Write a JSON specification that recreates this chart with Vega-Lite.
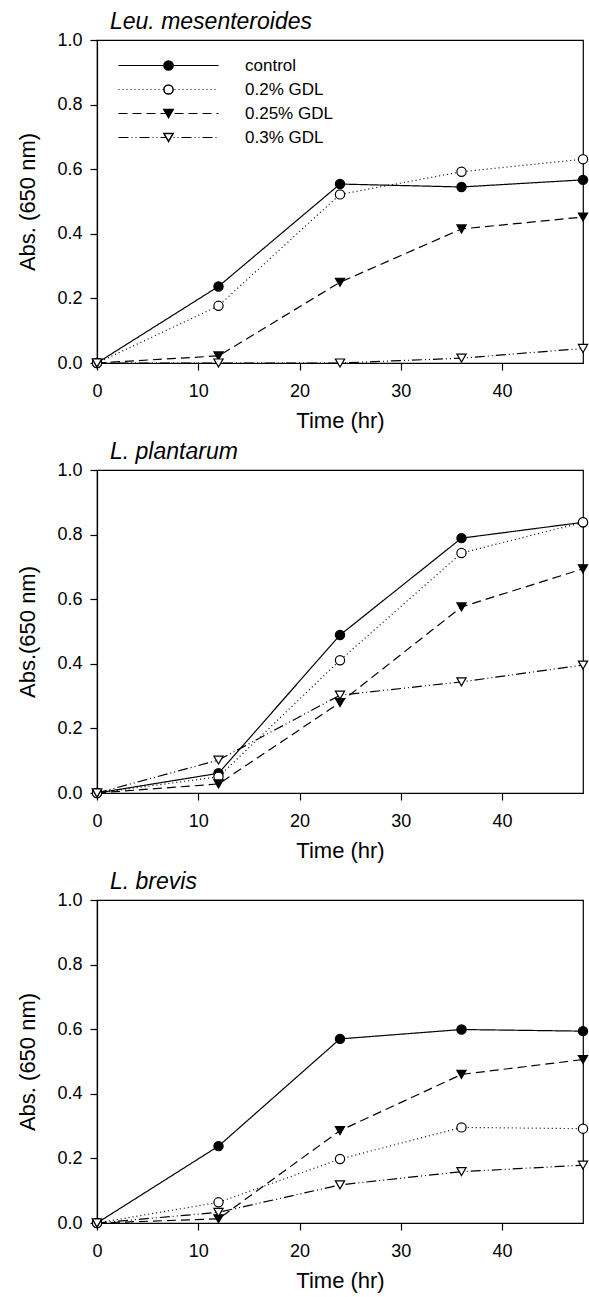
{
  "$schema": "https://vega.github.io/schema/vega-lite/v6.json",
  "background": "white",
  "padding": {"left": 16, "top": 10, "right": 0, "bottom": 5},
  "spacing": 8,
  "config": {
    "font": "Liberation Sans",
    "view": {"stroke": "black", "strokeWidth": 1.2},
    "axis": {
      "domainColor": "black", "domainWidth": 1.2,
      "tickColor": "black", "tickWidth": 1.2, "tickSize": 7,
      "labelColor": "black", "titleColor": "black",
      "labelFont": "Liberation Sans", "titleFont": "Liberation Sans",
      "labelFontSize": 18, "titleFontSize": 22, "titleFontWeight": "normal",
      "grid": false, "labelFlush": false
    },
    "title": {"font": "Liberation Sans", "fontSize": 23, "fontStyle": "italic", "fontWeight": "normal", "color": "black", "anchor": "start", "frame": "group", "dx": 13, "offset": -3}
  },
  "data": {"values": [
    {"panel": "Leu", "treatment": "control", "time": 0, "abs": 0},
    {"panel": "Leu", "treatment": "control", "time": 12, "abs": 0.237},
    {"panel": "Leu", "treatment": "control", "time": 24, "abs": 0.554},
    {"panel": "Leu", "treatment": "control", "time": 36, "abs": 0.545},
    {"panel": "Leu", "treatment": "control", "time": 48, "abs": 0.567},
    {"panel": "Leu", "treatment": "0.2% GDL", "time": 0, "abs": 0},
    {"panel": "Leu", "treatment": "0.2% GDL", "time": 12, "abs": 0.177},
    {"panel": "Leu", "treatment": "0.2% GDL", "time": 24, "abs": 0.522},
    {"panel": "Leu", "treatment": "0.2% GDL", "time": 36, "abs": 0.592},
    {"panel": "Leu", "treatment": "0.2% GDL", "time": 48, "abs": 0.631},
    {"panel": "Leu", "treatment": "0.25% GDL", "time": 0, "abs": 0},
    {"panel": "Leu", "treatment": "0.25% GDL", "time": 12, "abs": 0.022},
    {"panel": "Leu", "treatment": "0.25% GDL", "time": 24, "abs": 0.25},
    {"panel": "Leu", "treatment": "0.25% GDL", "time": 36, "abs": 0.415},
    {"panel": "Leu", "treatment": "0.25% GDL", "time": 48, "abs": 0.452},
    {"panel": "Leu", "treatment": "0.3% GDL", "time": 0, "abs": 0},
    {"panel": "Leu", "treatment": "0.3% GDL", "time": 12, "abs": 0.0},
    {"panel": "Leu", "treatment": "0.3% GDL", "time": 24, "abs": 0.0},
    {"panel": "Leu", "treatment": "0.3% GDL", "time": 36, "abs": 0.015},
    {"panel": "Leu", "treatment": "0.3% GDL", "time": 48, "abs": 0.045},
    {"panel": "Plant", "treatment": "control", "time": 0, "abs": 0},
    {"panel": "Plant", "treatment": "control", "time": 12, "abs": 0.061},
    {"panel": "Plant", "treatment": "control", "time": 24, "abs": 0.489},
    {"panel": "Plant", "treatment": "control", "time": 36, "abs": 0.789},
    {"panel": "Plant", "treatment": "control", "time": 48, "abs": 0.838},
    {"panel": "Plant", "treatment": "0.2% GDL", "time": 0, "abs": 0},
    {"panel": "Plant", "treatment": "0.2% GDL", "time": 12, "abs": 0.05},
    {"panel": "Plant", "treatment": "0.2% GDL", "time": 24, "abs": 0.411},
    {"panel": "Plant", "treatment": "0.2% GDL", "time": 36, "abs": 0.743},
    {"panel": "Plant", "treatment": "0.2% GDL", "time": 48, "abs": 0.838},
    {"panel": "Plant", "treatment": "0.25% GDL", "time": 0, "abs": 0},
    {"panel": "Plant", "treatment": "0.25% GDL", "time": 12, "abs": 0.028},
    {"panel": "Plant", "treatment": "0.25% GDL", "time": 24, "abs": 0.28},
    {"panel": "Plant", "treatment": "0.25% GDL", "time": 36, "abs": 0.576},
    {"panel": "Plant", "treatment": "0.25% GDL", "time": 48, "abs": 0.694},
    {"panel": "Plant", "treatment": "0.3% GDL", "time": 0, "abs": 0},
    {"panel": "Plant", "treatment": "0.3% GDL", "time": 12, "abs": 0.102},
    {"panel": "Plant", "treatment": "0.3% GDL", "time": 24, "abs": 0.303},
    {"panel": "Plant", "treatment": "0.3% GDL", "time": 36, "abs": 0.344},
    {"panel": "Plant", "treatment": "0.3% GDL", "time": 48, "abs": 0.396},
    {"panel": "Brev", "treatment": "control", "time": 0, "abs": 0},
    {"panel": "Brev", "treatment": "control", "time": 12, "abs": 0.238},
    {"panel": "Brev", "treatment": "control", "time": 24, "abs": 0.57},
    {"panel": "Brev", "treatment": "control", "time": 36, "abs": 0.599},
    {"panel": "Brev", "treatment": "control", "time": 48, "abs": 0.594},
    {"panel": "Brev", "treatment": "0.2% GDL", "time": 0, "abs": 0},
    {"panel": "Brev", "treatment": "0.2% GDL", "time": 12, "abs": 0.064},
    {"panel": "Brev", "treatment": "0.2% GDL", "time": 24, "abs": 0.198},
    {"panel": "Brev", "treatment": "0.2% GDL", "time": 36, "abs": 0.296},
    {"panel": "Brev", "treatment": "0.2% GDL", "time": 48, "abs": 0.292},
    {"panel": "Brev", "treatment": "0.25% GDL", "time": 0, "abs": 0},
    {"panel": "Brev", "treatment": "0.25% GDL", "time": 12, "abs": 0.013},
    {"panel": "Brev", "treatment": "0.25% GDL", "time": 24, "abs": 0.286},
    {"panel": "Brev", "treatment": "0.25% GDL", "time": 36, "abs": 0.46},
    {"panel": "Brev", "treatment": "0.25% GDL", "time": 48, "abs": 0.506},
    {"panel": "Brev", "treatment": "0.3% GDL", "time": 0, "abs": 0},
    {"panel": "Brev", "treatment": "0.3% GDL", "time": 12, "abs": 0.033},
    {"panel": "Brev", "treatment": "0.3% GDL", "time": 24, "abs": 0.118},
    {"panel": "Brev", "treatment": "0.3% GDL", "time": 36, "abs": 0.159},
    {"panel": "Brev", "treatment": "0.3% GDL", "time": 48, "abs": 0.179}
  ]},
  "resolve": {
    "scale": {"shape": "independent", "fill": "independent", "strokeDash": "independent"},
    "legend": {"shape": "independent", "fill": "independent", "strokeDash": "independent"}
  },
  "vconcat": [
    {
      "width": 486, "height": 323,
      "title": {"text": "Leu. mesenteroides"},
      "transform": [{"filter": "datum.panel === 'Leu'"}],
      "encoding": {
        "x": {"field": "time", "type": "quantitative", "scale": {"domain": [0, 48], "nice": false}, "axis": {"values": [0, 10, 20, 30, 40], "title": "Time (hr)", "labelPadding": 12, "titlePadding": 10}},
        "y": {"field": "abs", "type": "quantitative", "scale": {"domain": [0, 1], "nice": false}, "axis": {"values": [0, 0.2, 0.4, 0.6, 0.8, 1.0], "format": ".1f", "title": "Abs. (650 nm)", "labelPadding": 8, "titlePadding": 17}}
      },
      "layer": [
        {
          "mark": {"type": "line", "stroke": "black", "strokeWidth": 1.2},
          "encoding": {
            "strokeDash": {"field": "treatment", "type": "nominal",
              "sort": ["control", "0.2% GDL", "0.25% GDL", "0.3% GDL"],
              "scale": {"range": [[1, 0], [1, 3], [9, 5], [10, 3, 1, 3, 1, 3]]},
              "legend": {"orient": "none", "legendX": 63, "legendY": 17, "title": null, "symbolType": "M-10,0H10", "symbolSize": 100, "symbolStrokeColor": "black", "symbolStrokeWidth": 1.2, "labelFont": "Liberation Sans", "labelFontSize": 17, "labelColor": "black", "labelOffset": 68, "rowPadding": 6, "padding": 0}}
          }
        },
        {
          "mark": {"type": "point", "filled": true, "stroke": "black", "strokeWidth": 1.2, "size": 85, "opacity": 1},
          "encoding": {
            "shape": {"field": "treatment", "type": "nominal",
              "scale": {"domain": ["control", "0.2% GDL", "0.25% GDL", "0.3% GDL"], "range": ["circle", "circle", "triangle-down", "triangle-down"]},
              "legend": {"orient": "none", "legendX": 63, "legendY": 17, "title": null, "padding": 0, "symbolSize": 85, "labelFontSize": 17, "labelExpr": "''", "rowPadding": 6,
                "encode": {"symbols": {"update": {"stroke": {"value": "black"}, "strokeWidth": {"value": 1.2}}}}}},
            "fill": {"field": "treatment", "type": "nominal",
              "scale": {"domain": ["control", "0.2% GDL", "0.25% GDL", "0.3% GDL"], "range": ["black", "white", "black", "white"]},
              "legend": {"orient": "none", "legendX": 63, "legendY": 17, "title": null, "padding": 0, "symbolSize": 85, "labelFontSize": 17, "labelExpr": "''", "rowPadding": 6,
                "encode": {"symbols": {"update": {"stroke": {"value": "black"}, "strokeWidth": {"value": 1.2}}}}}}
          }
        }
      ]
    },
    {
      "width": 486, "height": 323,
      "title": {"text": "L. plantarum"},
      "transform": [{"filter": "datum.panel === 'Plant'"}],
      "encoding": {
        "x": {"field": "time", "type": "quantitative", "scale": {"domain": [0, 48], "nice": false}, "axis": {"values": [0, 10, 20, 30, 40], "title": "Time (hr)", "labelPadding": 12, "titlePadding": 10}},
        "y": {"field": "abs", "type": "quantitative", "scale": {"domain": [0, 1], "nice": false}, "axis": {"values": [0, 0.2, 0.4, 0.6, 0.8, 1.0], "format": ".1f", "title": "Abs.(650 nm)", "labelPadding": 8, "titlePadding": 17}}
      },
      "layer": [
        {
          "mark": {"type": "line", "stroke": "black", "strokeWidth": 1.2},
          "encoding": {
            "strokeDash": {"field": "treatment", "type": "nominal",
              "scale": {"domain": ["control", "0.2% GDL", "0.25% GDL", "0.3% GDL"], "range": [[1, 0], [1, 3], [9, 5], [10, 3, 1, 3, 1, 3]]},
              "legend": null}
          }
        },
        {
          "mark": {"type": "point", "filled": true, "stroke": "black", "strokeWidth": 1.2, "size": 85, "opacity": 1},
          "encoding": {
            "shape": {"field": "treatment", "type": "nominal",
              "scale": {"domain": ["control", "0.2% GDL", "0.25% GDL", "0.3% GDL"], "range": ["circle", "circle", "triangle-down", "triangle-down"]}, "legend": null},
            "fill": {"field": "treatment", "type": "nominal",
              "scale": {"domain": ["control", "0.2% GDL", "0.25% GDL", "0.3% GDL"], "range": ["black", "white", "black", "white"]}, "legend": null}
          }
        }
      ]
    },
    {
      "width": 486, "height": 323,
      "title": {"text": "L. brevis"},
      "transform": [{"filter": "datum.panel === 'Brev'"}],
      "encoding": {
        "x": {"field": "time", "type": "quantitative", "scale": {"domain": [0, 48], "nice": false}, "axis": {"values": [0, 10, 20, 30, 40], "title": "Time (hr)", "labelPadding": 12, "titlePadding": 10}},
        "y": {"field": "abs", "type": "quantitative", "scale": {"domain": [0, 1], "nice": false}, "axis": {"values": [0, 0.2, 0.4, 0.6, 0.8, 1.0], "format": ".1f", "title": "Abs. (650 nm)", "labelPadding": 8, "titlePadding": 17}}
      },
      "layer": [
        {
          "mark": {"type": "line", "stroke": "black", "strokeWidth": 1.2},
          "encoding": {
            "strokeDash": {"field": "treatment", "type": "nominal",
              "scale": {"domain": ["control", "0.2% GDL", "0.25% GDL", "0.3% GDL"], "range": [[1, 0], [1, 3], [9, 5], [10, 3, 1, 3, 1, 3]]},
              "legend": null}
          }
        },
        {
          "mark": {"type": "point", "filled": true, "stroke": "black", "strokeWidth": 1.2, "size": 85, "opacity": 1},
          "encoding": {
            "shape": {"field": "treatment", "type": "nominal",
              "scale": {"domain": ["control", "0.2% GDL", "0.25% GDL", "0.3% GDL"], "range": ["circle", "circle", "triangle-down", "triangle-down"]}, "legend": null},
            "fill": {"field": "treatment", "type": "nominal",
              "scale": {"domain": ["control", "0.2% GDL", "0.25% GDL", "0.3% GDL"], "range": ["black", "white", "black", "white"]}, "legend": null}
          }
        }
      ]
    }
  ]
}
